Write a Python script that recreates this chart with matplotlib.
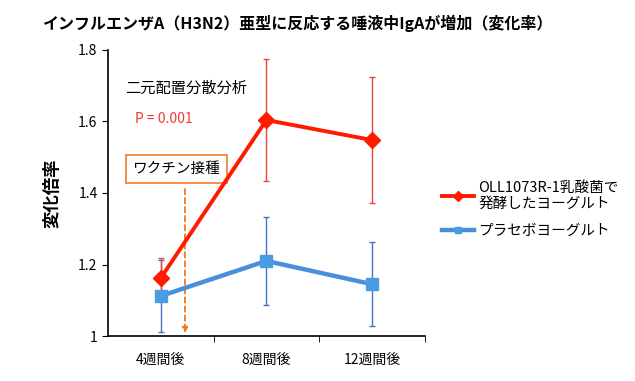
import matplotlib
matplotlib.use("Agg")
import matplotlib.pyplot as plt
import numpy as np

plt.rcParams['font.family'] = ['Noto Sans CJK JP', 'DejaVu Sans']

categories = ["4週間後", "8週間後", "12週間後"]
red_vals = [1.162, 1.604, 1.548]
red_err = [0.056, 0.17, 0.175]
blue_vals = [1.112, 1.210, 1.145]
blue_err = [0.10, 0.124, 0.118]
red_label = "OLL1073R-1乳酸菌で\n発酵したヨーグルト"
blue_label = "プラセボヨーグルト"
yticks = [1, 1.2, 1.4, 1.6, 1.8]
ytick_labels = ["1", "1.2", "1.4", "1.6", "1.8"]

fig = plt.figure(figsize=(6.35, 3.81), dpi=100)
ax = fig.add_axes([0.170, 0.118, 0.499, 0.751])
x = np.arange(len(categories))

ax.errorbar(x, blue_vals, yerr=blue_err, fmt='none', ecolor='#4472C4', elinewidth=1.0, capsize=2.5, capthick=1.0, zorder=2)
ax.errorbar(x, red_vals, yerr=red_err, fmt='none', ecolor='#E8463C', elinewidth=1.0, capsize=2.5, capthick=1.0, zorder=2)
lb, = ax.plot(x, blue_vals, color='#4A8FDB', lw=3.2, marker='s', markersize=8, markerfacecolor='#4A9BE0', markeredgecolor='#4A9BE0', zorder=3, label=blue_label)
lr, = ax.plot(x, red_vals, color='#FF1A00', lw=2.8, marker='D', markersize=8, markerfacecolor='#FF1A00', markeredgecolor='#FF1A00', zorder=4, label=red_label)

ax.set_xlim(-0.5, 2.5)
ax.set_ylim(1, 1.8)
ax.set_yticks(yticks)
ax.set_yticklabels(ytick_labels, fontsize=10)
ax.set_xticks(x)
ax.set_xticklabels(categories, fontsize=10)
ax.tick_params(axis='x', length=0, pad=12)
ax.set_xticks([0.5, 1.5, 2.5], minor=True)
ax.tick_params(axis='x', which='minor', length=4, direction='out')
ax.tick_params(axis='y', length=4, direction='out')
for s in ['top', 'right']:
    ax.spines[s].set_visible(False)
ax.spines['left'].set_linewidth(1.2)
ax.spines['bottom'].set_linewidth(1.2)
ax.set_ylabel("変化倍率", fontsize=12.5, fontweight='bold', labelpad=12)

# vaccination annotation
ax.annotate("", xy=(0.229, 1.0), xytext=(0.229, 1.419),
            arrowprops=dict(arrowstyle='-|>', linestyle=(0, (3, 2)), color='#F07A20', lw=1.3, mutation_scale=8),
            zorder=1)
ax.text(0.148, 1.467, "ワクチン接種", fontsize=10.5, ha='center', va='center',
        bbox=dict(boxstyle='square,pad=0.45', facecolor='white', edgecolor='#F07A30', lw=1.2))

ax.text(-0.34, 1.693, "二元配置分散分析", fontsize=11, ha='left', va='center')
ax.text(-0.24, 1.608, "P = 0.001", fontsize=10, ha='left', va='center', color='#F03A30')

fig.text(0.068, 0.94, "インフルエンザA（H3N2）亜型に反応する唾液中IgAが増加（変化率）", fontsize=11.5, fontweight='bold', ha='left', va='center')

fig.legend(handles=[lr, lb], loc='upper left', bbox_to_anchor=(0.675, 0.56), frameon=False,
           fontsize=10.5, handlelength=2.2, markerscale=0.6, labelspacing=0.9, handletextpad=0.3)

fig.savefig("out.png", dpi=100)
